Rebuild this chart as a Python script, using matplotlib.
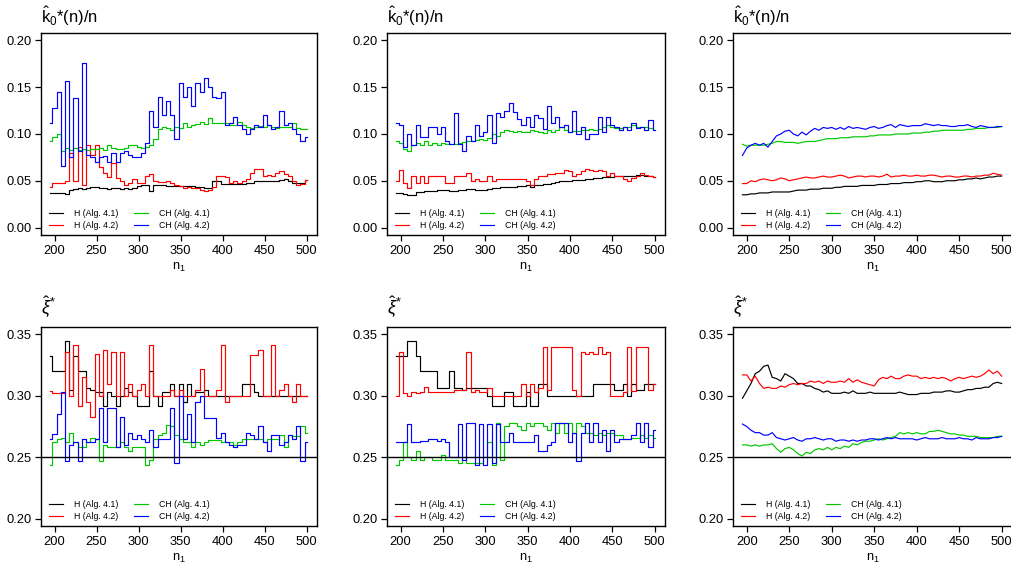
import numpy as np
import matplotlib

matplotlib.use("Agg")
import matplotlib.pyplot as plt  # noqa: E402

plt.rcParams['font.family'] = ['Liberation Sans', 'DejaVu Sans']
plt.rcParams['mathtext.fontset'] = 'custom'
plt.rcParams['mathtext.rm'] = 'Liberation Sans'
plt.rcParams['mathtext.it'] = 'Liberation Sans:italic'

# n1 grid (every 5 values of n1)
N1 = np.arange(195, 501, 5)

LABELS = ["H (Alg. 4.1)", "H (Alg. 4.2)", "CH (Alg. 4.1)", "CH (Alg. 4.2)"]
COLORS = ["black", "#FF0000", "#00C800", "#0000FF"]

# ---- k0*(n)/n, left column
K_L_H41 = [.037, .037, .037, .037, .036, .040, .041, .042, .041, .042,
           .043, .043, .042, .042, .041, .042, .042, .041, .042, .041,
           .042, .044, .045, .045, .039, .045, .045, .045, .044, .044,
           .044, .044, .044, .044, .044, .043, .043, .042, .042, .050,
           .050, .047, .047, .047, .047, .047, .047, .048, .048, .050,
           .050, .050, .050, .050, .050, .051, .052, .050, .048, .048,
           .048, .051]
K_L_H42 = [.043, .048, .048, .048, .050, .080, .050, .086, .045, .088,
           .078, .088, .065, .058, .054, .069, .053, .050, .045, .048,
           .052, .048, .048, .055, .057, .050, .049, .049, .050, .048,
           .045, .044, .042, .043, .042, .042, .040, .039, .040, .043,
           .055, .055, .054, .048, .050, .048, .050, .052, .058, .063,
           .063, .055, .056, .055, .058, .060, .057, .055, .050, .046,
           .047, .051]
K_L_CH41 = [.093, .097, .100, .082, .085, .083, .085, .083, .084, .083,
            .084, .084, .085, .083, .088, .085, .084, .084, .085, .088,
            .088, .086, .085, .086, .088, .095, .105, .107, .106, .104,
            .108, .106, .112, .108, .110, .111, .113, .111, .117, .112,
            .112, .112, .112, .110, .110, .113, .110, .108, .106, .108,
            .109, .108, .110, .108, .106, .107, .107, .108, .112, .106,
            .105, .105]
K_L_CH42 = [.112, .128, .145, .066, .157, .075, .139, .082, .176, .078,
            .075, .070, .075, .077, .070, .080, .070, .080, .082, .078,
            .075, .075, .080, .090, .125, .108, .140, .120, .135, .120,
            .095, .155, .140, .150, .130, .155, .145, .160, .150, .140,
            .138, .145, .110, .112, .118, .110, .105, .100, .105, .110,
            .108, .120, .110, .105, .108, .125, .110, .112, .105, .100,
            .093, .097]

# ---- k0*(n)/n, middle column
K_M_H41 = [.037, .037, .036, .035, .035, .038, .038, .039, .039, .039,
           .040, .040, .040, .039, .039, .040, .040, .041, .041, .040,
           .040, .040, .041, .042, .042, .043, .043, .043, .043, .044,
           .044, .045, .043, .045, .046, .047, .047, .048, .049, .050,
           .050, .050, .051, .051, .051, .052, .052, .053, .053, .054,
           .054, .054, .055, .055, .055, .055, .055, .056, .056, .055,
           .055, .054]
K_M_H42 = [.050, .062, .048, .042, .055, .048, .055, .048, .055, .055,
           .055, .055, .048, .048, .055, .055, .055, .058, .050, .052,
           .050, .050, .055, .050, .052, .052, .052, .052, .052, .052,
           .052, .050, .046, .052, .055, .055, .057, .057, .058, .058,
           .062, .060, .055, .057, .060, .063, .062, .060, .062, .060,
           .055, .058, .055, .055, .052, .050, .053, .055, .058, .056,
           .055, .054]
K_M_CH41 = [.093, .090, .084, .082, .088, .090, .088, .092, .088, .090,
            .088, .090, .089, .089, .089, .090, .091, .092, .093, .094,
            .095, .094, .096, .100, .098, .102, .104, .103, .102, .103,
            .102, .102, .104, .103, .102, .101, .104, .102, .104, .107,
            .104, .102, .103, .103, .104, .104, .105, .104, .105, .107,
            .110, .108, .106, .106, .107, .108, .110, .108, .107, .107,
            .106, .104]
K_M_CH42 = [.112, .110, .086, .100, .088, .110, .097, .097, .108, .108,
            .100, .108, .092, .089, .122, .089, .082, .098, .092, .110,
            .098, .102, .120, .090, .122, .118, .125, .133, .124, .116,
            .110, .118, .108, .120, .117, .105, .130, .112, .118, .108,
            .110, .102, .125, .100, .108, .095, .100, .100, .118, .102,
            .118, .110, .108, .104, .108, .104, .112, .106, .108, .104,
            .115, .104]

# ---- k0*(n)/n, right column
K_R_H41 = [.035, .035, .036, .036, .037, .037, .037, .038, .038, .038,
           .038, .038, .039, .040, .040, .040, .041, .041, .041, .042,
           .042, .042, .043, .043, .044, .044, .044, .044, .045, .045,
           .045, .045, .046, .046, .046, .047, .047, .047, .048, .048,
           .048, .049, .049, .050, .050, .049, .049, .049, .050, .050,
           .050, .051, .051, .052, .052, .053, .052, .053, .054, .054,
           .055, .055]
K_R_H42 = [.047, .047, .050, .049, .051, .052, .051, .050, .051, .053,
           .052, .050, .051, .052, .053, .054, .053, .053, .054, .055,
           .054, .054, .055, .056, .055, .053, .054, .055, .055, .054,
           .055, .055, .054, .055, .057, .054, .055, .055, .056, .055,
           .055, .056, .055, .055, .056, .056, .055, .054, .055, .055,
           .054, .054, .055, .055, .054, .055, .055, .056, .056, .058,
           .057, .056]
K_R_CH41 = [.089, .087, .088, .088, .088, .088, .089, .090, .092, .092,
            .091, .091, .091, .090, .091, .092, .092, .092, .093, .094,
            .095, .095, .095, .096, .096, .096, .097, .097, .097, .097,
            .098, .098, .099, .099, .099, .099, .100, .100, .100, .100,
            .101, .101, .101, .102, .102, .103, .103, .104, .104, .104,
            .104, .104, .104, .105, .105, .106, .106, .106, .107, .107,
            .107, .108]
K_R_CH42 = [.077, .085, .088, .090, .088, .090, .086, .092, .098, .100,
            .103, .104, .100, .098, .102, .099, .103, .106, .104, .107,
            .106, .107, .105, .107, .105, .108, .106, .107, .106, .105,
            .107, .108, .106, .107, .109, .110, .107, .110, .109, .108,
            .109, .109, .109, .111, .110, .109, .110, .109, .109, .108,
            .108, .109, .109, .110, .108, .107, .109, .108, .107, .107,
            .108, .108]

# ---- xi*, left column
X_L_H41 = [.332, .320, .320, .320, .345, .305, .332, .320, .320, .306,
           .305, .303, .303, .292, .303, .300, .292, .300, .306, .303,
           .300, .292, .292, .292, .320, .300, .292, .303, .303, .310,
           .300, .310, .295, .310, .300, .303, .303, .305, .300, .300,
           .300, .300, .300, .300, .300, .300, .310, .310, .310, .303,
           .300, .300, .300, .300, .300, .300, .300, .300, .300, .300,
           .300, .300]
X_L_H42 = [.304, .302, .302, .302, .336, .300, .341, .292, .315, .295,
           .283, .334, .300, .337, .310, .336, .300, .336, .300, .310,
           .300, .305, .310, .300, .341, .300, .300, .300, .300, .305,
           .300, .305, .300, .300, .300, .305, .322, .300, .300, .300,
           .305, .341, .295, .300, .300, .300, .300, .300, .333, .333,
           .337, .300, .300, .341, .300, .305, .310, .300, .295, .310,
           .300, .300]
X_L_CH41 = [.244, .262, .265, .266, .262, .270, .262, .258, .258, .262,
            .266, .265, .247, .260, .258, .258, .258, .262, .258, .255,
            .258, .258, .258, .244, .248, .265, .268, .270, .276, .275,
            .268, .265, .262, .262, .258, .262, .260, .262, .264, .264,
            .264, .262, .262, .262, .260, .262, .265, .265, .265, .265,
            .265, .262, .265, .265, .265, .268, .258, .268, .267, .267,
            .275, .270]
X_L_CH42 = [.265, .269, .285, .303, .247, .260, .262, .247, .265, .262,
            .262, .265, .290, .262, .290, .290, .258, .283, .260, .270,
            .265, .268, .265, .262, .272, .258, .265, .265, .265, .290,
            .245, .300, .265, .285, .262, .295, .300, .282, .282, .282,
            .266, .270, .262, .260, .258, .260, .260, .270, .268, .265,
            .275, .262, .255, .268, .268, .260, .262, .268, .265, .275,
            .247, .262]

# ---- xi*, middle column
X_M_H41 = [.332, .332, .332, .345, .345, .332, .320, .320, .320, .320,
           .306, .306, .306, .320, .306, .306, .305, .306, .306, .306,
           .306, .306, .300, .292, .292, .292, .303, .303, .292, .292,
           .292, .303, .292, .292, .310, .310, .300, .300, .300, .300,
           .300, .300, .300, .300, .300, .300, .300, .310, .310, .310,
           .310, .310, .305, .305, .310, .300, .310, .305, .305, .310,
           .310, .310]
X_M_H42 = [.300, .336, .302, .300, .303, .302, .303, .307, .303, .303,
           .303, .303, .303, .303, .305, .305, .305, .336, .303, .305,
           .303, .303, .306, .300, .300, .300, .300, .300, .300, .300,
           .310, .300, .310, .303, .306, .340, .305, .340, .340, .340,
           .340, .340, .305, .300, .336, .334, .336, .334, .340, .334,
           .336, .300, .300, .300, .303, .340, .304, .340, .340, .340,
           .305, .310]
X_M_CH41 = [.244, .248, .262, .250, .248, .255, .248, .250, .250, .248,
            .248, .252, .248, .248, .248, .245, .250, .245, .245, .245,
            .245, .250, .262, .244, .278, .248, .275, .278, .278, .275,
            .272, .278, .275, .278, .278, .275, .272, .278, .270, .278,
            .270, .278, .270, .278, .275, .270, .270, .268, .270, .268,
            .270, .270, .268, .268, .265, .265, .266, .266, .268, .266,
            .268, .266]
X_M_CH42 = [.262, .262, .262, .277, .262, .262, .263, .263, .265, .265,
            .263, .265, .262, .250, .250, .277, .248, .278, .278, .244,
            .277, .244, .277, .245, .277, .262, .262, .270, .262, .262,
            .262, .262, .262, .268, .255, .255, .260, .262, .278, .278,
            .278, .262, .270, .247, .270, .278, .262, .278, .262, .272,
            .255, .272, .262, .265, .265, .265, .268, .278, .262, .278,
            .258, .272]

# ---- xi*, right column
X_R_H41 = [.298, .304, .310, .318, .320, .324, .325, .315, .314, .312,
           .318, .316, .314, .310, .310, .308, .308, .306, .305, .303,
           .304, .302, .302, .302, .303, .302, .304, .302, .302, .302,
           .303, .302, .302, .302, .302, .302, .302, .303, .302, .301,
           .301, .301, .302, .302, .302, .303, .303, .303, .304, .304,
           .303, .303, .304, .305, .305, .306, .306, .307, .307, .310,
           .311, .310]
X_R_H42 = [.317, .317, .312, .316, .310, .306, .307, .306, .306, .308,
           .307, .309, .310, .309, .310, .310, .312, .311, .312, .310,
           .312, .311, .311, .312, .311, .314, .311, .313, .311, .310,
           .309, .308, .313, .315, .314, .316, .314, .314, .316, .317,
           .316, .316, .314, .315, .314, .315, .314, .315, .314, .312,
           .314, .315, .314, .315, .316, .315, .316, .318, .321, .318,
           .320, .316]
X_R_CH41 = [.260, .260, .259, .260, .259, .260, .260, .261, .257, .254,
            .257, .258, .256, .253, .251, .254, .253, .256, .257, .256,
            .258, .256, .258, .257, .259, .258, .261, .260, .262, .263,
            .263, .264, .265, .264, .265, .266, .267, .270, .269, .270,
            .269, .270, .269, .269, .271, .271, .272, .271, .270, .269,
            .269, .268, .268, .267, .267, .267, .266, .266, .266, .266,
            .267, .267]
X_R_CH42 = [.277, .275, .272, .270, .270, .268, .268, .270, .266, .265,
            .264, .265, .266, .264, .263, .265, .265, .266, .265, .264,
            .265, .265, .263, .264, .264, .263, .264, .263, .264, .264,
            .265, .265, .264, .265, .266, .265, .266, .265, .265, .265,
            .265, .264, .265, .266, .265, .265, .265, .266, .265, .265,
            .265, .266, .265, .265, .264, .266, .265, .265, .265, .266,
            .266, .267]

K_TITLE = r'$\hat{\mathrm{k}}_\mathrm{0}$*(n)/n'
X_TITLE = r'$\hat{\xi}^{*}$'
K_TICKS = [0.00, 0.05, 0.10, 0.15, 0.20]
X_TICKS = [0.20, 0.25, 0.30, 0.35]

W, H = 1011, 567
# axes boxes in pixels: left, right, top, bottom
COLS = [(41, 317), (387, 665), (733, 1012)]
ROWS = [(33, 235), (327, 526)]


def draw_panel(ax, series, ticks, title, steps, hline=None):
    for y, c, lab in zip(series, COLORS, LABELS):
        ax.plot(N1, y, color=c, lw=0.85, label=lab,
                drawstyle="steps-mid" if steps else "default")
    if hline is not None:
        ax.axhline(hline, color="black", lw=1.0)
    lo, hi = ticks[0], ticks[-1]
    pad = 0.04 * (hi - lo)
    ax.set_ylim(lo - pad, hi + pad)
    ax.set_xlim(196 - 0.04 * 304, 500 + 0.04 * 304)
    ax.set_yticks(ticks)
    ax.set_yticklabels([f"{t:.2f}" for t in ticks])
    ax.set_xticks([200, 250, 300, 350, 400, 450, 500])
    ax.tick_params(labelsize=9.3, length=4.5, width=0.9, pad=2.5, direction="out")
    for s in ax.spines.values():
        s.set_linewidth(1.0)
    ax.set_xlabel(r'$\mathrm{n}_1$', fontsize=9.3, labelpad=3)
    if title == X_TITLE:
        ax.text(0.0, 1.065, title, transform=ax.transAxes, fontsize=13,
                ha="left", va="baseline")
    else:
        ax.text(0.0, 1.05, title, transform=ax.transAxes, fontsize=12,
                ha="left", va="baseline")
    ax.legend(loc="lower left", bbox_to_anchor=(0.005, -0.01), ncol=2,
              frameon=False, fontsize=6.3, handlelength=1.6,
              handletextpad=1.2, columnspacing=1.8, labelspacing=0.35,
              borderpad=0.3)


fig = plt.figure(figsize=(W / 100, H / 100), dpi=100)

panels = [
    (0, 0, [K_L_H41, K_L_H42, K_L_CH41, K_L_CH42], K_TICKS, K_TITLE, True, None),
    (0, 1, [K_M_H41, K_M_H42, K_M_CH41, K_M_CH42], K_TICKS, K_TITLE, True, None),
    (0, 2, [K_R_H41, K_R_H42, K_R_CH41, K_R_CH42], K_TICKS, K_TITLE, False, None),
    (1, 0, [X_L_H41, X_L_H42, X_L_CH41, X_L_CH42], X_TICKS, X_TITLE, True, 0.25),
    (1, 1, [X_M_H41, X_M_H42, X_M_CH41, X_M_CH42], X_TICKS, X_TITLE, True, 0.25),
    (1, 2, [X_R_H41, X_R_H42, X_R_CH41, X_R_CH42], X_TICKS, X_TITLE, False, 0.25),
]

for r, c, series, ticks, title, steps, hline in panels:
    x0, x1 = COLS[c]
    y0, y1 = ROWS[r]
    ax = fig.add_axes([x0 / W, 1 - y1 / H, (x1 - x0) / W, (y1 - y0) / H])
    draw_panel(ax, series, ticks, title, steps, hline)

fig.savefig("out.png", dpi=100)
